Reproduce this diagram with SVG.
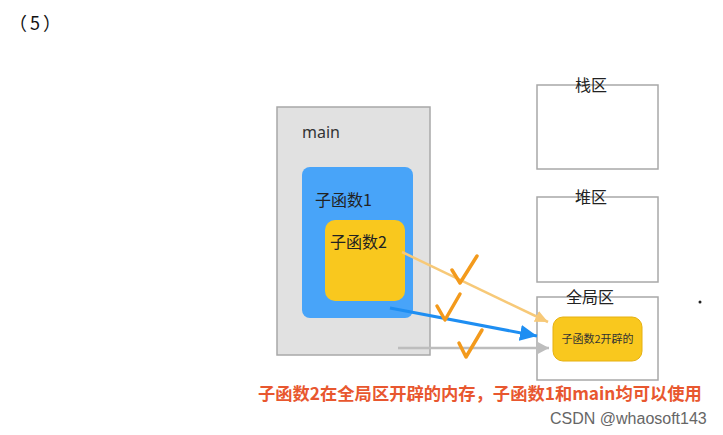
<svg xmlns="http://www.w3.org/2000/svg" width="723" height="435" viewBox="0 0 723 435">
<defs>
<style>
.cjk{font-family:"Noto Sans CJK SC","Noto Sans",sans-serif}
.lbl{font-size:16px;fill:#222}
.area{fill:#fff;stroke:#a8a8a8;stroke-width:1.5}
.chk{fill:none;stroke:#f39a1c;stroke-width:3.5;stroke-linecap:round;stroke-linejoin:round}
</style>
<marker id="ay" markerUnits="userSpaceOnUse" markerWidth="14" markerHeight="12" refX="13" refY="6" orient="auto"><path d="M0,0 L13,6 L0,12 Z" fill="#f7c978"/></marker>
<marker id="ab" markerUnits="userSpaceOnUse" markerWidth="18" markerHeight="16" refX="17" refY="8" orient="auto"><path d="M0,0 L17,8 L0,16 Z" fill="#1e8ef2"/></marker>
<marker id="ag" markerUnits="userSpaceOnUse" markerWidth="14" markerHeight="14" refX="13" refY="7" orient="auto"><path d="M0,0 L13,7 L0,14 Z" fill="#bdbdbd"/></marker>
</defs>
<rect width="723" height="435" fill="#fff"/>
<text x="9" y="30" class="cjk" font-size="18" fill="#111" letter-spacing="3">（5）</text>

<g id="main">
<rect x="277" y="107" width="153" height="248" fill="#e1e1e1" stroke="#a8a8a8" stroke-width="1.5"/>
<text x="302" y="138" font-family="'Noto Sans',sans-serif" font-size="16" fill="#333">main</text>
</g>
<g id="sub1">
<rect x="302" y="167" width="111" height="151" rx="8" fill="#48a4f9"/>
<text x="315" y="206" class="cjk lbl">子函数1</text>
</g>
<g id="sub2">
<rect x="325" y="220" width="80" height="81" rx="10" fill="#f9c81e"/>
<text x="330" y="248" class="cjk lbl">子函数2</text>
</g>

<g id="stack">
<rect x="537" y="85" width="121" height="84" class="area"/>
<text x="591" y="91" class="cjk lbl" text-anchor="middle">栈区</text>
</g>
<g id="heap">
<rect x="537" y="197" width="121" height="85" class="area"/>
<text x="591" y="203" class="cjk lbl" text-anchor="middle">堆区</text>
</g>
<g id="global">
<rect x="537" y="297" width="121" height="83" class="area"/>
<text x="590" y="303" class="cjk lbl" text-anchor="middle">全局区</text>
</g>
<g id="alloc">
<rect x="553" y="317" width="89" height="44" rx="10" fill="#f9c81e" stroke="#e6b010" stroke-width="1"/>
<text x="597.500" y="343" class="cjk" font-size="11" fill="#333" text-anchor="middle">子函数2开辟的</text>
</g>

<g id="connectors">
<line x1="402" y1="252" x2="548" y2="322" stroke="#f7c978" stroke-width="2.500" marker-end="url(#ay)"/>
<line x1="390" y1="308" x2="537" y2="336" stroke="#1e8ef2" stroke-width="3" marker-end="url(#ab)"/>
<line x1="398" y1="348" x2="549" y2="348" stroke="#bdbdbd" stroke-width="2.500" marker-end="url(#ag)"/>
</g>

<g id="checks">
<path class="chk" d="M452,270 L460,283 L477,256"/>
<path class="chk" d="M437,306 L445,320 L460,294"/>
<path class="chk" d="M459,343 L466,357 L482,330"/>
</g>

<text x="258" y="400" class="cjk" font-size="17.300" font-weight="bold" fill="#e8572f">子函数2在全局区开辟的内存，子函数1和main均可以使用</text>
<text x="550" y="424" font-family="'Liberation Sans',Arial,sans-serif" font-size="16" fill="#666">CSDN @whaosoft143</text>
<circle cx="700" cy="302" r="1.500" fill="#222"/>
</svg>
